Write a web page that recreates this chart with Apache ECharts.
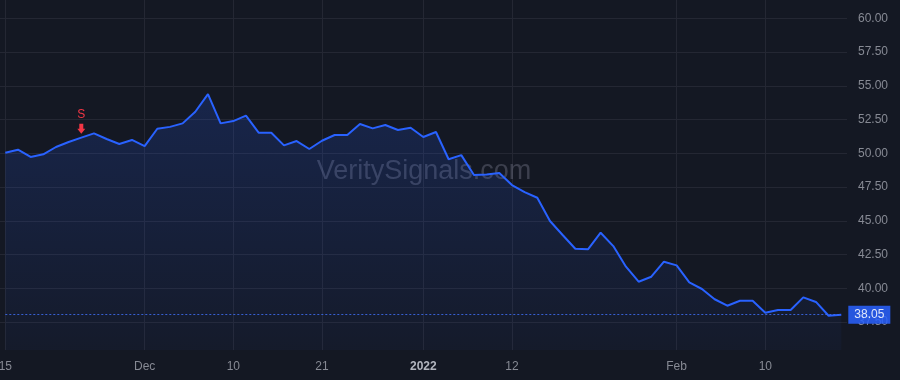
<!DOCTYPE html>
<html>
<head>
<meta charset="utf-8">
<style>
  html, body { margin: 0; padding: 0; background: #141823; }
  #chart { width: 900px; height: 380px; }
</style>
<script src="https://cdn.jsdelivr.net/npm/echarts@6/dist/echarts.min.js"></script>
</head>
<body>
<div id="chart"></div>
<script>
// Trading days shown on the chart
const dates = [
  '2021-11-15','2021-11-16','2021-11-17','2021-11-18','2021-11-19','2021-11-22','2021-11-23','2021-11-24','2021-11-26','2021-11-29','2021-11-30',
  '2021-12-01','2021-12-02','2021-12-03','2021-12-06','2021-12-07','2021-12-08','2021-12-09','2021-12-10','2021-12-13','2021-12-14','2021-12-15',
  '2021-12-16','2021-12-17','2021-12-20','2021-12-21','2021-12-22','2021-12-23','2021-12-27','2021-12-28','2021-12-29','2021-12-30','2021-12-31',
  '2022-01-03','2022-01-04','2022-01-05','2022-01-06','2022-01-07','2022-01-10','2022-01-11','2022-01-12','2022-01-13','2022-01-14','2022-01-18',
  '2022-01-19','2022-01-20','2022-01-21','2022-01-24','2022-01-25','2022-01-26','2022-01-27','2022-01-28','2022-01-31',
  '2022-02-01','2022-02-02','2022-02-03','2022-02-04','2022-02-07','2022-02-08','2022-02-09','2022-02-10','2022-02-11','2022-02-14','2022-02-15',
  '2022-02-16','2022-02-17','2022-02-18'
];

// Closing prices
const prices = [
  50.04, 50.27, 49.73, 49.93, 50.47, 50.84, 51.16, 51.48, 51.06, 50.69, 50.99,
  50.54, 51.82, 51.96, 52.22, 53.08, 54.39, 52.22, 52.39, 52.79, 51.53, 51.53,
  50.59, 50.91, 50.32, 50.93, 51.36, 51.36, 52.17, 51.85, 52.10, 51.73, 51.90,
  51.21, 51.58, 49.56, 49.87, 48.39, 48.44, 48.54, 47.65, 47.13, 46.71, 44.99,
  43.95, 42.93, 42.89, 44.12, 43.13, 41.60, 40.49, 40.86, 41.97,
  41.70, 40.44, 39.95, 39.19, 38.71, 39.08, 39.08, 38.19, 38.39, 38.39, 39.33,
  38.99, 37.97, 38.05
];

// X-axis tick labels (date -> label)
const tickDates = ['2021-11-15','2021-12-01','2021-12-10','2021-12-21','2022-01-03','2022-01-12','2022-02-01','2022-02-10'];
const tickLabels = ['15','Dec','10','21','2022','12','Feb','10'];

// Y-axis tick settings
const yTickMin = 35;
const yTickMax = 60;
const yTickStep = 2.5;

// Signal marker
const signalDate = '2021-11-23';
const signalText = 'S';

const labelMap = {};
tickDates.forEach((d, i) => { labelMap[d] = tickLabels[i]; });
const lastPrice = prices[prices.length - 1];
const signalIndex = dates.indexOf(signalDate);

const FONT = 'Liberation Sans';
const chart = echarts.init(document.getElementById('chart'), null, { renderer: 'canvas' });

chart.setOption({
  backgroundColor: '#141823',
  animation: false,
  textStyle: { fontFamily: FONT },
  grid: [
    { left: 0, right: 53, top: 18.3, bottom: 24.2, outerBoundsMode: 'none', containLabel: false },
    { left: 5.3, right: 58.7, top: 0, bottom: 30, outerBoundsMode: 'none', containLabel: false }
  ],
  xAxis: [
    { type: 'value', gridIndex: 0, min: 0, max: 1, show: false },
    {
      type: 'category', gridIndex: 1, data: dates, boundaryGap: false,
      axisLine: { show: false }, axisTick: { show: false },
      axisLabel: {
        interval: (idx, val) => labelMap[val] !== undefined,
        formatter: (val) => labelMap[val] === '2022' ? '{b|2022}' : (labelMap[val] || ''),
        color: '#878a94', fontSize: 12, margin: 11, fontFamily: FONT,
        rich: { b: { fontWeight: 'bold', color: '#b2b5be', fontSize: 12, fontFamily: FONT } }
      },
      splitLine: {
        show: true,
        interval: (idx, val) => labelMap[val] !== undefined,
        lineStyle: { color: '#242733', width: 1 }
      }
    }
  ],
  yAxis: [
    {
      type: 'value', gridIndex: 0, position: 'right',
      min: yTickMin, max: yTickMax, interval: yTickStep,
      axisLine: { show: false }, axisTick: { show: false },
      axisLabel: {
        showMinLabel: false,
        formatter: (v) => v.toFixed(2),
        color: '#878a94', fontSize: 12, margin: 11, fontFamily: FONT
      },
      splitLine: { show: true, showMinLine: false, lineStyle: { color: '#242733', width: 1 } }
    },
    {
      type: 'value', gridIndex: 1, min: 35.43, max: 61.36, show: false,
      splitLine: { show: false }
    }
  ],
  graphic: [
    {
      type: 'text', z: 1, silent: true,
      style: {
        x: 424, y: 172, text: 'VeritySignals.com',
        font: '27px "Liberation Sans"', fill: 'rgba(125,130,148,0.38)',
        textAlign: 'center', textVerticalAlign: 'middle'
      }
    }
  ],
  series: [
    {
      type: 'line', xAxisIndex: 1, yAxisIndex: 1,
      data: prices, symbol: 'none', z: 3,
      lineStyle: { color: '#2962ff', width: 2 },
      areaStyle: {
        color: new echarts.graphic.LinearGradient(0, 0, 0, 1, [
          { offset: 0, color: 'rgba(41,98,255,0.26)' },
          { offset: 1, color: 'rgba(41,98,255,0.05)' }
        ])
      },
      markLine: {
        silent: true, symbol: 'none', animation: false,
        data: [{ yAxis: lastPrice }],
        lineStyle: { color: '#3d6cf0', type: [2, 2], width: 1, opacity: 0.85 },
        label: {
          show: true, position: 'end', distance: 7,
          formatter: () => lastPrice.toFixed(2),
          backgroundColor: '#2962ff', color: '#ffffff',
          padding: [3, 6, 3, 6], fontSize: 12, fontFamily: FONT
        }
      },
      markPoint: {
        silent: true, animation: false,
        data: [{ coord: [signalIndex, prices[signalIndex]] }],
        symbol: 'path://M2,0L6,0L6,5L8,5L4,10L0,5L2,5Z',
        symbolSize: [8, 10], symbolOffset: [0, -9],
        itemStyle: { color: '#f23645' },
        label: {
          show: true, position: 'top', distance: 3,
          formatter: signalText, color: '#f23645', fontSize: 12, fontFamily: FONT
        }
      }
    }
  ]
});
</script>
</body>
</html>
